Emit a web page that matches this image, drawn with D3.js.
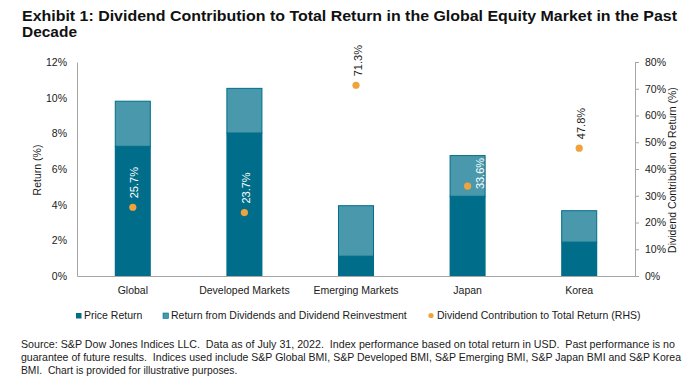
<!DOCTYPE html>
<html>
<head>
<meta charset="utf-8">
<script src="https://cdn.jsdelivr.net/npm/d3@7"></script>
<style>
  body { margin: 0; background: #fff; }
  svg { display: block; font-family: "Liberation Sans", Arial, sans-serif; }
</style>
</head>
<body>
<svg id="chart" width="692" height="388"></svg>
<script>
// data
const categories = ["Global", "Developed Markets", "Emerging Markets", "Japan", "Korea"];
const priceReturn = [7.3, 8.05, 1.14, 4.5, 1.93];
const dividendReturn = [2.53, 2.5, 2.83, 2.28, 1.76];
const dividendShare = [25.7, 23.7, 71.3, 33.6, 47.8];
const leftTicks = [0, 2, 4, 6, 8, 10, 12];
const rightTicks = [0, 10, 20, 30, 40, 50, 60, 70, 80];

const dark = "#006e8a";
const light = "#4a98ab";
const orange = "#f0a23c";
const grey = "#a6a6a6";
const ink = "#1a1a1a";

const vis = {

    svg : d3.select("#chart"),

    x : d3.scaleBand().domain(categories).range([77, 635]).paddingInner(0.677).paddingOuter(0.3385),
    yL : d3.scaleLinear().domain([0, 12]).range([276, 62]),
    yR : d3.scaleLinear().domain([0, 80]).range([276, 62]),

    title : function() {
        const t = this.svg.append("text")
            .attr("font-size", "15px").attr("font-weight", "bold").attr("fill", "#111");
        t.append("tspan").attr("x", 22).attr("y", 20.5)
            .attr("textLength", 655).attr("lengthAdjust", "spacingAndGlyphs")
            .text("Exhibit 1: Dividend Contribution to Total Return in the Global Equity Market in the Past");
        t.append("tspan").attr("x", 22).attr("y", 36.5)
            .attr("textLength", 55).attr("lengthAdjust", "spacingAndGlyphs")
            .text("Decade");
    },

    axes : function() {
        const svg = this.svg;

        const left = svg.append("g").attr("transform", "translate(77,0)")
            .call(d3.axisLeft(this.yL).tickValues(leftTicks).tickSize(0).tickPadding(10).tickFormat(d => d + "%"));
        left.select(".domain").attr("stroke", grey);
        left.selectAll("text").attr("font-size", "10.5px").attr("fill", ink).attr("font-family", "Liberation Sans, Arial");

        const right = svg.append("g").attr("transform", "translate(635,0)")
            .call(d3.axisRight(this.yR).tickValues(rightTicks).tickSize(4).tickSizeOuter(0).tickPadding(6).tickFormat(d => d + "%"));
        right.select(".domain").attr("stroke", grey);
        right.selectAll("line").attr("stroke", grey);
        right.selectAll("text").attr("font-size", "10.5px").attr("fill", ink).attr("font-family", "Liberation Sans, Arial");

        const bottom = svg.append("g").attr("transform", "translate(0,276)")
            .call(d3.axisBottom(this.x).tickSize(0).tickPadding(11));
        bottom.select(".domain").attr("stroke", grey);
        bottom.selectAll("text").attr("font-size", "10.5px").attr("fill", ink).attr("font-family", "Liberation Sans, Arial");

        svg.append("text")
            .attr("transform", "translate(40.5,170) rotate(-90)")
            .attr("text-anchor", "middle").attr("font-size", "10.5px").attr("fill", ink)
            .text("Return (%)");

        svg.append("text")
            .attr("transform", "translate(675.5,170) rotate(-90)")
            .attr("text-anchor", "middle").attr("font-size", "10.5px").attr("fill", ink)
            .text("Dividend Contribution to Return (%)");
    },

    bars : function() {
        const x = this.x, y = this.yL;
        const g = this.svg.append("g");

        g.selectAll("rect.price").data(categories).join("rect")
            .attr("class", "price")
            .attr("x", d => x(d))
            .attr("width", x.bandwidth())
            .attr("y", (d, i) => y(priceReturn[i]))
            .attr("height", (d, i) => y(0) - y(priceReturn[i]))
            .attr("fill", dark);

        g.selectAll("rect.div").data(categories).join("rect")
            .attr("class", "div")
            .attr("x", d => x(d) + 0.5)
            .attr("width", x.bandwidth() - 1)
            .attr("y", (d, i) => y(priceReturn[i] + dividendReturn[i]) + 0.5)
            .attr("height", (d, i) => y(priceReturn[i]) - y(priceReturn[i] + dividendReturn[i]))
            .attr("fill", light)
            .attr("stroke", dark)
            .attr("stroke-width", 1);
    },

    dots : function() {
        const x = this.x, y = this.yR;
        const g = this.svg.append("g");
        // Japan's label sits beside its dot in the original
        const shift = { "Japan": [11, 12] };

        g.selectAll("circle").data(categories).join("circle")
            .attr("cx", d => x(d) + x.bandwidth() / 2)
            .attr("cy", (d, i) => y(dividendShare[i]))
            .attr("r", 3.6)
            .attr("fill", orange);

        g.selectAll("text").data(categories).join("text")
            .attr("transform", (d, i) => {
                const s = shift[d] || [0, 0];
                const cx = x(d) + x.bandwidth() / 2 + 5.5 + s[0];
                const cy = y(dividendShare[i]) - 9 + s[1];
                return "translate(" + cx + "," + cy + ") rotate(-90)";
            })
            .attr("font-size", "11px")
            .attr("fill", (d, i) => (dividendShare[i] > 60 || d === "Korea") ? ink : "#fff")
            .text((d, i) => dividendShare[i].toFixed(1) + "%");
    },

    legend : function() {
        const g = this.svg.append("g").attr("font-size", "10.5px").attr("fill", ink);
        g.append("rect").attr("x", 76).attr("y", 313).attr("width", 5.5).attr("height", 5.5).attr("fill", dark);
        g.append("text").attr("x", 84).attr("y", 318.5).text("Price Return");
        g.append("rect").attr("x", 163).attr("y", 313).attr("width", 5.5).attr("height", 5.5)
            .attr("fill", light).attr("stroke", dark).attr("stroke-width", 0.6);
        g.append("text").attr("x", 171).attr("y", 318.5).text("Return from Dividends and Dividend Reinvestment");
        g.append("circle").attr("cx", 431).attr("cy", 315.5).attr("r", 2.6).attr("fill", orange);
        g.append("text").attr("x", 437).attr("y", 318.5).text("Dividend Contribution to Total Return (RHS)");
    },

    source : function() {
        const lines = [
            "Source: S&P Dow Jones Indices LLC.  Data as of July 31, 2022.  Index performance based on total return in USD.  Past performance is no",
            "guarantee of future results.  Indices used include S&P Global BMI, S&P Developed BMI, S&P Emerging BMI, S&P Japan BMI and S&P Korea",
            "BMI.  Chart is provided for illustrative purposes."
        ];
        const widths = [654, 660, null];
        this.svg.append("g").selectAll("text").data(lines).join("text")
            .attr("x", 21)
            .attr("y", (d, i) => 348 + i * 13)
            .attr("font-size", "10.3px")
            .attr("fill", ink)
            .attr("xml:space", "preserve")
            .style("white-space", "pre")
            .each(function(d, i) {
                if (widths[i]) d3.select(this).attr("textLength", widths[i]).attr("lengthAdjust", "spacingAndGlyphs");
            })
            .text(d => d);
    },

    init : function() {
        this.title();
        this.axes();
        this.bars();
        this.dots();
        this.legend();
        this.source();
    }
};

vis.init();
</script>
</body>
</html>
